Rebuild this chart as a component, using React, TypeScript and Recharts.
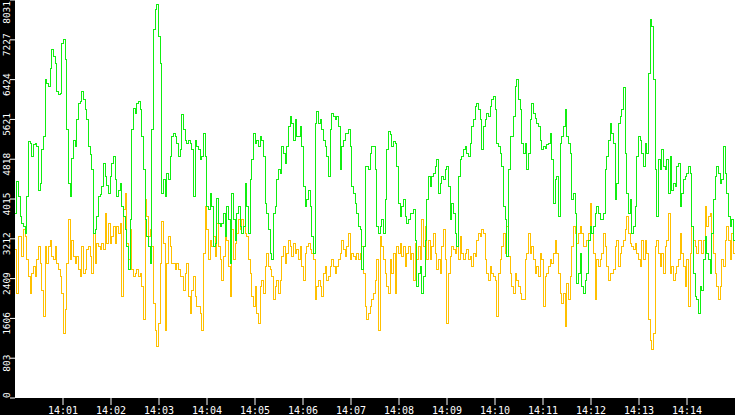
import React from 'react';
import { LineChart, Line, XAxis, YAxis, CartesianGrid } from 'recharts';

// seconds after 14:00:00, one sample roughly every 2 s over the 15 minutes shown
const SPAN_SECONDS = 900;

// green trace
const greenValues = [
  // 14:00:00 - 14:03:45
  3730, 4365, 4063, 3659, 3525, 3457, 3323, 4063, 5173, 5140, 4870, 5106,
  5140, 5072, 4197, 4332, 5005, 5274, 6417, 6350, 6283, 6653, 7023, 6888,
  6753, 6182, 6115, 6148, 7157, 7224, 6821, 5408, 4332, 4063, 4836, 5206,
  5072, 5610, 5947, 5980, 6182, 6014, 5812, 5610, 5072, 4904, 4601, 3323,
  3390, 3659, 4063, 4097, 4265, 4736, 4467, 4298, 4130, 4467, 4736, 4870,
  4399, 4063, 4197, 4332, 3861, 3659, 3390, 3054, 2583, 3592, 5408, 5846,
  5745, 5947, 5980, 5812, 5274, 4601, 3592, 3256, 3054, 2718, 5408, 7426,
  7830, 7931, 7292, 6753, 4130, 4399, 4063, 4534, 4399, 4870, 5274, 5341,
  5274, 5140, 4870, 5005, 5711, 5408, 5206, 5140, 5206, 5140, 5005, 4063,
  // 14:03:45 - 14:07:30
  5206, 5072, 5005, 4803, 4870, 5341, 4870, 3861, 3794, 4130, 3861, 3054,
  3121, 4029, 3525, 3457, 3525, 3727, 3256, 3861, 3592, 2718, 4130, 3592,
  3188, 3727, 3861, 3457, 3323, 3457, 4332, 3861, 3323, 4399, 4803, 5341,
  5140, 5206, 5072, 5274, 5206, 4870, 3929, 3727, 3390, 2920, 2785, 3727,
  3861, 4399, 4601, 4534, 5072, 4937, 4736, 5072, 5476, 5677, 5543, 5206,
  5610, 5274, 5274, 5476, 5072, 4265, 3861, 3996, 4197, 3861, 3256, 2920,
  5543, 5778, 5543, 5610, 5408, 5206, 5072, 4870, 4467, 5408, 5745, 5677,
  5610, 5677, 5476, 4601, 5072, 5206, 5341, 5341, 5408, 5072, 4265, 4130,
  3929, 3727, 3457, 3390, 2583, 3054, 4668, 4668, 4601, 4937, 5072, 5072,
  // 14:07:30 - 14:11:15
  4601, 3457, 3323, 3457, 3592, 3323, 3996, 5005, 5374, 5307, 5072, 5173,
  5140, 4668, 3929, 3659, 3861, 3996, 3659, 3525, 3592, 3727, 3727, 3794,
  3188, 2247, 2516, 2650, 2112, 2449, 3188, 3996, 4467, 4265, 4467, 4534,
  4668, 4803, 4130, 4332, 4467, 4399, 4601, 4668, 4265, 3592, 3929, 3727,
  3323, 3054, 4467, 4803, 4870, 5005, 5072, 4937, 4870, 5140, 5476, 5610,
  5879, 5947, 5812, 5610, 5005, 5476, 5610, 5745, 5677, 5879, 6014, 6081,
  5812, 5140, 5072, 4937, 4668, 3861, 3592, 2852, 4601, 5274, 5274, 5677,
  6283, 6417, 6014, 5812, 5140, 4937, 5140, 4601, 4937, 5610, 5947, 5745,
  5644, 5543, 5476, 5206, 5005, 5072, 5038, 5106, 5140, 5341, 4803, 3929,
  // 14:11:15 - 14:15:00
  4399, 4467, 3659, 5140, 5274, 5476, 5812, 5274, 5140, 4937, 3996, 4130,
  3727, 2314, 2516, 2920, 2247, 2112, 2381, 2516, 3188, 3457, 3323, 3457,
  3727, 3861, 3727, 3592, 3592, 3727, 4601, 4870, 5206, 5543, 5341, 5140,
  3996, 4332, 5543, 5677, 5812, 6269, 4937, 4130, 3727, 3996, 3323, 3457,
  3861, 4870, 5274, 5206, 4937, 4668, 5140, 4937, 6552, 7628, 7493, 6417,
  4601, 3659, 4803, 4601, 5005, 4668, 4601, 4803, 4130, 4870, 4197, 4332,
  4265, 4668, 4736, 3861, 4130, 4399, 4467, 4534, 4668, 4534, 3457, 2516,
  2045, 1978, 1708, 2247, 2179, 2785, 3256, 2920, 2785, 2516, 3323, 3996,
  4467, 4668, 4534, 4332, 4399, 5072, 4534, 4130, 3659, 3457, 3592, 3188, 1641,
];

// amber trace
const amberValues = [
  // 14:00:00 - 14:03:45
  2987, 2112, 3256, 3256, 2852, 3390, 3256, 2785, 2449, 2112, 2516, 2650,
  2449, 2785, 3054, 2718, 2179, 1641, 3054, 2718, 3054, 3188, 2852, 2785,
  3054, 2718, 2583, 2449, 2112, 1305, 1776, 2718, 3592, 2785, 3188, 2852,
  2718, 2852, 2583, 2449, 3054, 2516, 2583, 2987, 3054, 2852, 2516, 3323,
  2718, 3121, 3054, 2987, 3121, 2987, 3727, 3121, 3525, 3121, 3256, 3457,
  3121, 3457, 3323, 3525, 2045, 3794, 4130, 3121, 2785, 3390, 2583, 2449,
  2516, 2583, 2449, 2516, 2247, 1574, 3996, 3659, 3256, 3390, 3054, 1910,
  1372, 1036, 1507, 2718, 3558, 3121, 1372, 2718, 3256, 3054, 2718, 2718,
  2583, 2718, 2583, 2449, 2449, 2179, 2516, 2718, 2045, 1708, 2179, 2449,
  // 14:03:45 - 14:07:30
  2045, 1843, 1843, 1708, 1372, 2920, 3861, 3390, 2785, 3188, 3054, 3256,
  2852, 3525, 3054, 2785, 2381, 2852, 3256, 3188, 2650, 2045, 3390, 2785,
  3121, 3323, 3592, 3390, 3592, 3457, 3323, 3256, 2785, 2516, 2045, 1843,
  2247, 1708, 1507, 2247, 2381, 2112, 2650, 2920, 2650, 2583, 2449, 1978,
  2247, 2381, 2112, 2381, 2852, 3054, 2718, 2920, 3188, 3054, 2852, 3121,
  2920, 2987, 2785, 3054, 2650, 2381, 2920, 3054, 3121, 2987, 2920, 2785,
  1978, 2247, 2381, 2247, 2045, 2516, 2650, 2381, 2449, 2650, 2785, 2650,
  2516, 2650, 2785, 2920, 3188, 2987, 2852, 3054, 3323, 2785, 2920, 2852,
  2785, 2920, 2785, 2920, 3054, 2516, 1843, 1574, 1708, 1843, 1978, 2112,
  // 14:07:30 - 14:11:15
  2381, 2785, 1372, 3256, 3054, 2785, 2516, 2247, 2112, 2785, 2516, 2920,
  2112, 3054, 2920, 3121, 2852, 3054, 2650, 2920, 3054, 2785, 2920, 2381,
  3121, 2785, 3054, 2785, 3592, 3054, 3457, 2785, 3188, 2785, 3054, 3323,
  2920, 2583, 2785, 2516, 3054, 3390, 2785, 1507, 2516, 2852, 3054, 2987,
  2920, 3054, 2785, 3256, 2920, 2785, 2920, 2987, 2785, 2852, 2650, 2920,
  2852, 3188, 3323, 3256, 3390, 3323, 2785, 2516, 2381, 2650, 2516, 2449,
  2381, 1641, 2516, 2785, 3054, 3323, 2920, 3457, 2852, 2516, 2247, 2112,
  2516, 2381, 2247, 2112, 1978, 1978, 2785, 2920, 3323, 2920, 3054, 2785,
  2516, 2650, 2449, 2920, 2785, 1843, 2449, 2516, 2650, 2785, 2718, 2920,
  // 14:11:15 - 14:15:00
  3188, 2920, 2516, 2112, 1911, 2112, 1439, 2314, 1978, 2448, 3054, 3457,
  3323, 3121, 3323, 3457, 3323, 3054, 3054, 3188, 3323, 3929, 3323, 2920,
  1978, 2785, 2650, 2785, 2920, 3323, 3054, 2650, 2381, 2516, 2516, 2583,
  3054, 3188, 2650, 2920, 3054, 3188, 3390, 3659, 3323, 3121, 3054, 2987,
  3121, 2920, 2785, 2650, 3188, 2785, 3188, 2920, 1574, 1170, 969, 1305,
  3054, 3188, 2920, 2650, 2920, 2516, 3054, 3188, 3727, 2516, 2650, 2381,
  2516, 2650, 2785, 3323, 2920, 2650, 2247, 2785, 1843, 2920, 3457, 3188,
  3054, 2920, 3188, 3188, 2920, 3188, 3861, 3457, 3659, 3727, 3323, 2920,
  2516, 2247, 1978, 2247, 2785, 2650, 3188, 3457, 3188, 2785, 3323, 2920, 0,
];

const yTicks = [0, 803, 1606, 2409, 3212, 4015, 4818, 5621, 6424, 7227, 8031];
const xTicks = [60, 120, 180, 240, 300, 360, 420, 480, 540, 600, 660, 720, 780, 840];
const xLabels = ['14:01', '14:02', '14:03', '14:04', '14:05', '14:06', '14:07', '14:08', '14:09', '14:10', '14:11', '14:12', '14:13', '14:14'];

const step = SPAN_SECONDS / (greenValues.length - 1);
const data = greenValues.map((g, i) => ({ t: i * step, green: g, amber: amberValues[i] }));

const WIDTH = 735;
const HEIGHT = 415;
const AXIS_W = 15;
const AXIS_H = 17;
const PLOT_BOTTOM = HEIGHT - AXIS_H;
const FONT = '"DejaVu Sans Mono", monospace';

function YTick(props: any) {
  const { y, payload } = props;
  const label = String(payload.value);
  // rotated labels sit a little below their tick, kept inside the strip
  const half = label.length * 2.85;
  const cy = Math.min(Math.max(y + 5, half + 1), PLOT_BOTTOM - half);
  return (
    <g>
      <line x1={10} x2={AXIS_W} y1={y} y2={y} stroke="#fff" />
      <text
        transform={`translate(9.5, ${cy}) rotate(-90)`}
        textAnchor="middle"
        fill="#fff"
        fontSize={9.5}
        fontFamily={FONT}
      >
        {label}
      </text>
    </g>
  );
}

function XTick(props: any) {
  const { x, payload } = props;
  const idx = xTicks.indexOf(payload.value);
  return (
    <g>
      <line x1={x} x2={x} y1={PLOT_BOTTOM} y2={PLOT_BOTTOM + 7} stroke="#fff" />
      <text x={x} y={PLOT_BOTTOM + 16} textAnchor="middle" fill="#fff" fontSize={10} fontFamily={FONT}>
        {idx >= 0 ? xLabels[idx] : ''}
      </text>
    </g>
  );
}

export default function App() {
  return (
    <div style={{ position: 'absolute', left: 0, top: 0, width: WIDTH, height: HEIGHT, background: '#000' }}>
      <style>{'.recharts-line-curve { shape-rendering: crispEdges; }'}</style>
      <LineChart width={WIDTH} height={HEIGHT} data={data} margin={{ top: 0, right: 0, bottom: 0, left: 0 }}>
        <CartesianGrid fill="#ffffff" fillOpacity={1} stroke="none" />
        <XAxis
          dataKey="t"
          type="number"
          domain={[0, SPAN_SECONDS]}
          ticks={xTicks}
          height={AXIS_H}
          axisLine={false}
          tickLine={false}
          tick={XTick}
          interval={0}
        />
        <YAxis
          type="number"
          domain={[0, 8031]}
          ticks={yTicks}
          width={AXIS_W}
          axisLine={false}
          tickLine={false}
          tick={YTick}
          interval={0}
          allowDataOverflow
        />
        <Line type="stepAfter" dataKey="amber" stroke="#ffc000" strokeWidth={1} dot={false} isAnimationActive={false} />
        <Line type="stepAfter" dataKey="green" stroke="#11ee11" strokeWidth={1} dot={false} isAnimationActive={false} />
      </LineChart>
    </div>
  );
}
